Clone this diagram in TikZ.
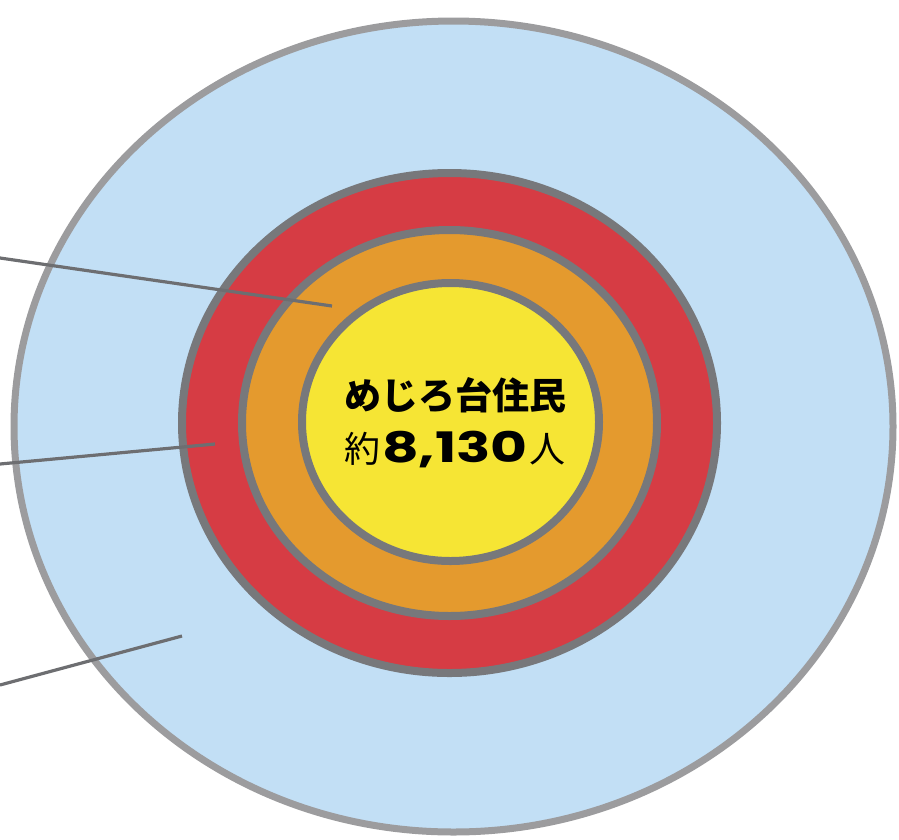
\documentclass[tikz,border=0pt]{standalone}
\usepackage{fontspec}
\newfontfamily\cjk{Noto Sans CJK JP}
\newfontfamily\pop{Poppins}[FakeStretch=1.35]
\definecolor{ringblue}{HTML}{C2DFF5}
\definecolor{ringred}{HTML}{D63C44}
\definecolor{ringorange}{HTML}{E49A2E}
\definecolor{ringyellow}{HTML}{F6E534}
\definecolor{bordergray}{HTML}{77787B}
\definecolor{outergray}{HTML}{9C9C9E}
\definecolor{leadergray}{HTML}{6D6E71}
\tikzset{
  ring/.style={draw=bordergray, line width=8pt},
  leader/.style={draw=leadergray, line width=3.2pt},
}
\begin{document}
\begin{tikzpicture}[x=1pt,y=-1pt]
\useasboundingbox (0,0) rectangle (899,839);
% outer area
\filldraw[fill=ringblue, draw=outergray, line width=7pt] (453.5,426.5) ellipse [x radius=439.5pt, y radius=405.5pt];
% red ring
\filldraw[ring, fill=ringred] (449.5,423) ellipse [x radius=267.5pt, y radius=250pt];
% orange ring
\filldraw[ring, fill=ringorange] (449.5,423) ellipse [x radius=207.5pt, y radius=193pt];
% yellow core
\filldraw[ring, fill=ringyellow] (450.5,422) ellipse [x radius=148.5pt, y radius=139pt];
% leader lines
\coordinate (l1a) at (0,258);
\coordinate (l1b) at (332,306);
\coordinate (l2a) at (0,464);
\coordinate (l2b) at (215,444);
\coordinate (l3a) at (0,685);
\coordinate (l3b) at (182,636);
\draw[leader] (l1a) -- (l1b);
\draw[leader] (l2a) -- (l2b);
\draw[leader] (l3a) -- (l3b);
% text
\node[anchor=base, inner sep=0pt] (title) at (455,409) {\cjk\bfseries\fontsize{37}{40}\selectfont めじろ台住民};
\node[anchor=base, inner sep=0pt] (count) at (455,462) {\cjk\fontsize{36}{40}\selectfont 約\kern2pt\pop\bfseries\fontsize{42}{44}\selectfont 8,130\kern2pt\cjk\mdseries\fontsize{36}{40}\selectfont 人};
\end{tikzpicture}
\end{document}
